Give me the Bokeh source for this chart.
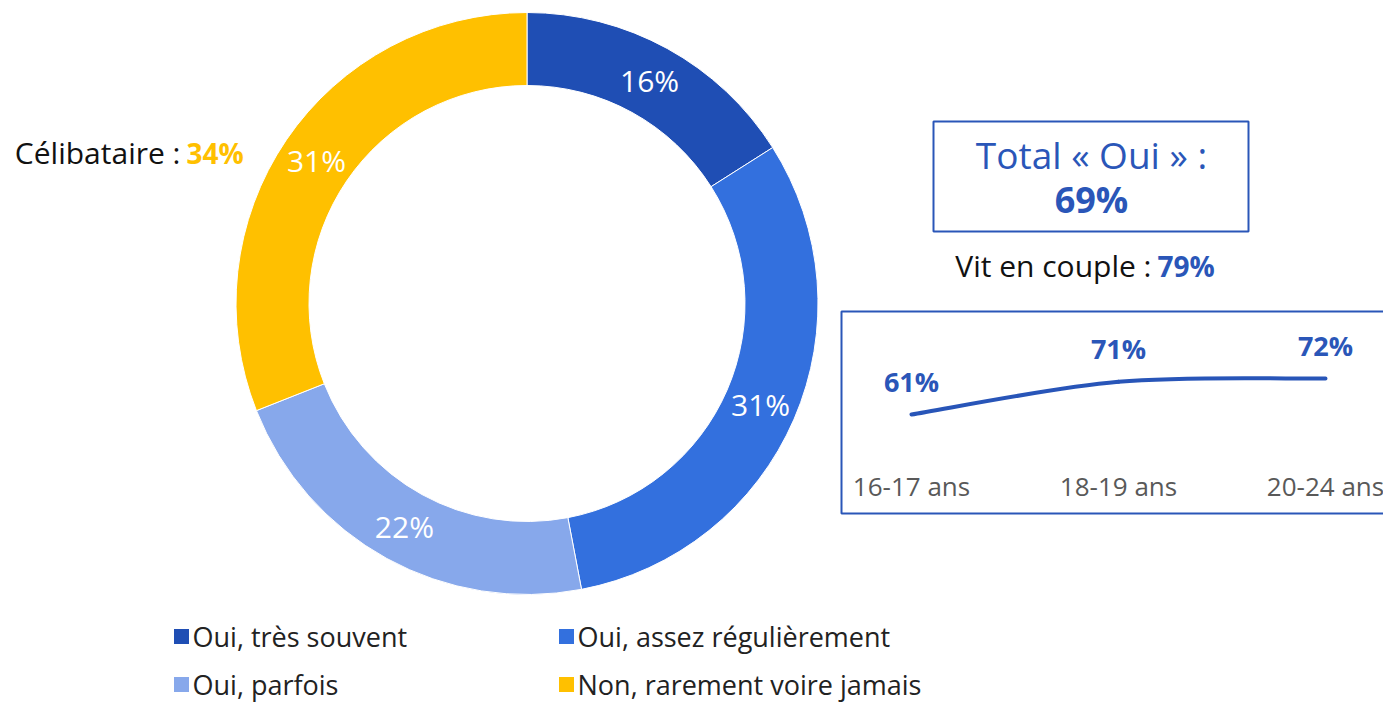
import numpy as np
from bokeh.plotting import figure
from bokeh.models import Range1d, ColumnDataSource, BoxAnnotation
from bokeh.embed import file_html
from bokeh.resources import INLINE
from bokeh.core.properties import value

# ---------------- data ----------------
categories = ["Oui, très souvent", "Oui, assez régulièrement", "Oui, parfois", "Non, rarement voire jamais"]
shares = [16, 31, 22, 31]
colors = ["#1F4EB4", "#3370DE", "#87A8EB", "#FFC000"]

age_groups = ["16-17 ans", "18-19 ans", "20-24 ans"]
age_values = [61, 71, 72]

total_oui = 69
couple = 79
celibataire = 34

# ---------------- layout ----------------
FONT = "Open Sans"
BLUE = "#2A56B8"
W, H = 1383, 704
OX, OY = 0, 0


def sy(y):
    """screen y (picture px) -> main data y"""
    return OY + H - y


p = figure(width=W, height=H, output_backend="svg", toolbar_location=None,
           x_range=Range1d(OX, OX + W), y_range=Range1d(0, H),
           x_axis_type=None, y_axis_type=None, min_border=0)
p.outline_line_color = None
p.grid.visible = False
p.background_fill_color = "white"

# ---------------- donut ----------------
cx, cy = 526.5, sy(303)
r_out, r_in = 291, 218
fr = np.array(shares, dtype=float) / sum(shares)
ends = np.cumsum(fr)
starts = ends - fr
src = ColumnDataSource(dict(
    start=np.pi / 2 - 2 * np.pi * ends,
    end=np.pi / 2 - 2 * np.pi * starts,
    color=colors,
))
p.annular_wedge(x=cx, y=cy, inner_radius=r_in, outer_radius=r_out,
                inner_radius_units="screen", outer_radius_units="screen",
                start_angle="start", end_angle="end", direction="anticlock",
                fill_color="color", line_color="white", line_width=1, source=src)

mid = (starts + ends) / 2
ang = np.pi / 2 - 2 * np.pi * mid
rl = (r_in + r_out) / 2
p.text(x=cx + rl * np.cos(ang), y=cy + rl * np.sin(ang),
       text=[f"{s}%" for s in shares], text_color="white",
       text_font=value(FONT), text_font_size="30px",
       text_align="center", text_baseline="middle")

# Célibataire
p.text(x=[180], y=[sy(152)], text=["Célibataire :"], text_color="#111111",
       text_font=value(FONT), text_font_size="30px",
       text_align="right", text_baseline="middle")
p.text(x=[186], y=[sy(152)], text=[f"{celibataire}%"], text_color="#FFC000",
       text_font=value(FONT), text_font_size="28px", text_font_style="bold",
       text_align="left", text_baseline="middle")

# ---------------- Total box ----------------
p.add_layout(BoxAnnotation(left=933, right=1248, top=sy(121), bottom=sy(231),
                           fill_alpha=0, line_color=BLUE, line_alpha=1, line_width=2))
p.text(x=[1091], y=[sy(154)], text=["Total « Oui » :"], text_color=BLUE,
       text_font=value(FONT), text_font_size="37px",
       text_align="center", text_baseline="middle")
p.text(x=[1091], y=[sy(199)], text=[f"{total_oui}%"], text_color=BLUE,
       text_font=value(FONT), text_font_size="36px", text_font_style="bold",
       text_align="center", text_baseline="middle")

# Vit en couple
p.text(x=[1151], y=[sy(265)], text=["Vit en couple :"], text_color="#111111",
       text_font=value(FONT), text_font_size="30px",
       text_align="right", text_baseline="middle")
p.text(x=[1157], y=[sy(265)], text=[f"{couple}%"], text_color=BLUE,
       text_font=value(FONT), text_font_size="28px", text_font_style="bold",
       text_align="left", text_baseline="middle")

# ---------------- mini line chart ----------------
p.add_layout(BoxAnnotation(left=841, right=1420, top=sy(311), bottom=sy(513),
                           fill_alpha=0, line_color=BLUE, line_alpha=1, line_width=2))

x0_px, dx_px = 911, 207          # screen x of first category, spacing
y50_px, ppu = 450, 3.27          # screen y of 50 %, px per %
p.extra_x_ranges["mini"] = Range1d(-(x0_px - OX) / dx_px, (OX + W - x0_px) / dx_px)
p.extra_y_ranges["mini"] = Range1d(50 - (OY + H - y50_px) / ppu, 50 + (y50_px - OY) / ppu)

xi = np.arange(len(age_values), dtype=float)
yv = np.array(age_values, dtype=float)
# smooth (Catmull-Rom -> cubic Bezier) through the data points
xp = np.concatenate([[xi[0]], xi, [xi[-1]]])
yp = np.concatenate([[yv[0]], yv, [yv[-1]]])
bx0, by0 = xi[:-1], yv[:-1]
bx1, by1 = xi[1:], yv[1:]
c0x = xp[1:-2] + (xp[2:-1] - xp[0:-3]) / 6
c0y = yp[1:-2] + (yp[2:-1] - yp[0:-3]) / 6
c1x = xp[2:-1] - (xp[3:] - xp[1:-2]) / 6
c1y = yp[2:-1] - (yp[3:] - yp[1:-2]) / 6
p.bezier(x0=bx0, y0=by0, x1=bx1, y1=by1, cx0=c0x, cy0=c0y, cx1=c1x, cy1=c1y,
         line_color="#2855B8", line_width=4, line_cap="round",
         x_range_name="mini", y_range_name="mini")

p.text(x=xi, y=yv, text=[f"{v}%" for v in age_values], text_color=BLUE,
       text_font=value(FONT), text_font_size="27px", text_font_style="bold",
       text_align="center", text_baseline="middle", y_offset=-33,
       x_range_name="mini", y_range_name="mini")
p.text(x=xi, y=[sy(485)] * len(age_groups), text=age_groups, text_color="#595959",
       text_font=value(FONT), text_font_size="26px",
       text_align="center", text_baseline="middle",
       x_range_name="mini")

# ---------------- legend ----------------
col_x = [174, 559]
row_y = [636, 684]
lx = [col_x[i % 2] for i in range(len(categories))]
ly = [sy(row_y[i // 2]) for i in range(len(categories))]
p.scatter(x=[x + 7 for x in lx], y=ly, marker="square", size=15,
          fill_color=colors, line_color=None)
p.text(x=[x + 18 for x in lx], y=ly, text=categories, text_color="#222222",
       text_font=value(FONT), text_font_size="27px",
       text_align="left", text_baseline="middle")

open("out.html", "w").write(file_html(p, INLINE))
